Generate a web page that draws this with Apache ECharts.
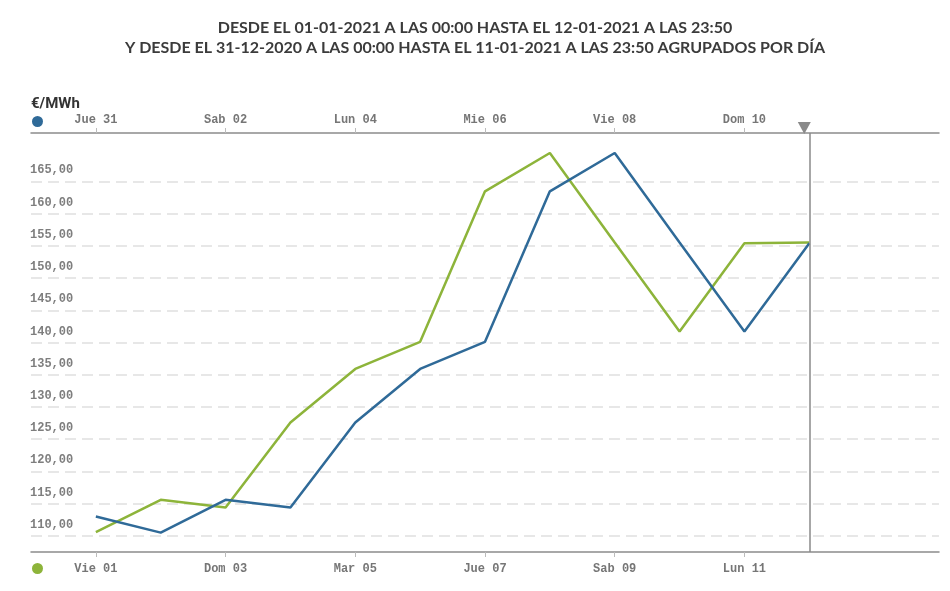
<!DOCTYPE html>
<html>
<head>
<meta charset="utf-8">
<script src="https://cdn.jsdelivr.net/npm/echarts@6/dist/echarts.min.js"></script>
<style>
html,body{margin:0;padding:0;background:#fff;}
#chart{width:950px;height:591px;}
</style>
</head>
<body>
<div id="chart"></div>
<script>
// Day labels (top axis: blue series dot, bottom axis: green series dot)
const topDays = ['Jue 31','Vie 01','Sab 02','Dom 03','Lun 04','Mar 05','Mie 06','Jue 07','Vie 08','Sab 09','Dom 10','Lun 11'];
const bottomDays = ['Vie 01','Sab 02','Dom 03','Lun 04','Mar 05','Mie 06','Jue 07','Vie 08','Sab 09','Dom 10','Lun 11','Mar 12'];
const labelIndexes = [0, 2, 4, 6, 8, 10];
const yTickValues = [110, 115, 120, 125, 130, 135, 140, 145, 150, 155, 160, 165];

// Daily prices (€/MWh)
const blueName = 'Del 01-01-2021 al 12-01-2021';
const greenName = 'Del 31-12-2020 al 11-01-2021';
const blueValues = [113.0, 110.5, 115.6, 114.4, 127.6, 135.9, 140.1, 163.45, 169.4, 155.5, 141.7, 155.4];
const greenValues = [110.6, 115.6, 114.4, 127.6, 135.9, 140.1, 163.45, 169.4, 155.5, 141.7, 155.4, 155.5];
const cursorIndex = 11;

const BLUE = '#2f6a98';
const GREEN = '#8db43a';
const MONO = '"Liberation Mono", "DejaVu Sans Mono", monospace';

const chart = echarts.init(document.getElementById('chart'), null, {renderer: 'canvas'});

function xAxisCfg(pos, days) {
  return {
    type: 'value',
    position: pos,
    min: -1,
    max: 13,
    axisLine: {show: true, onZero: false, lineStyle: {color: '#8c8c8c', width: 1.5}},
    axisTick: {show: true, customValues: labelIndexes, length: 5, lineStyle: {color: '#bbb', width: 1}},
    axisLabel: {
      show: true,
      customValues: labelIndexes,
      formatter: v => days[Math.round(v)] || '',
      fontFamily: MONO,
      fontWeight: 'bold',
      fontSize: 12,
      color: '#767676',
      margin: pos === 'top' ? 7 : 11
    },
    splitLine: {show: false}
  };
}

const option = {
  animation: false,
  backgroundColor: '#fff',
  title: {
    text: 'DESDE EL 01-01-2021 A LAS 00:00 HASTA EL 12-01-2021 A LAS 23:50\nY DESDE EL 31-12-2020 A LAS 00:00 HASTA EL 11-01-2021 A LAS 23:50 AGRUPADOS POR DÍA',
    left: 'center',
    top: 13,
    textStyle: {
      fontFamily: 'Lato, "Open Sans", sans-serif',
      fontWeight: 'bold',
      fontSize: 16,
      lineHeight: 20,
      color: '#3b3b3b'
    }
  },
  legend: [
    {
      data: [blueName], left: 32, top: 116, icon: 'circle', itemWidth: 11, itemHeight: 11,
      formatter: () => '', textStyle: {fontSize: 1}, padding: 0
    },
    {
      data: [greenName], left: 32, top: 563, icon: 'circle', itemWidth: 11, itemHeight: 11,
      formatter: () => '', textStyle: {fontSize: 1}, padding: 0
    }
  ],
  grid: {left: 31, right: 11, top: 133, bottom: 39, containLabel: false},
  xAxis: [xAxisCfg('top', topDays), xAxisCfg('bottom', bottomDays)],
  yAxis: {
    type: 'value',
    min: 107.5,
    max: 172.5,
    name: '€/MWh',
    nameLocation: 'end',
    nameGap: 21,
    nameTextStyle: {
      align: 'left',
      fontFamily: 'Roboto, "Liberation Sans", sans-serif',
      fontWeight: 'bold',
      fontSize: 15,
      color: '#333'
    },
    axisLine: {show: false, onZero: false},
    axisTick: {show: false, customValues: yTickValues},
    axisLabel: {
      customValues: yTickValues,
      inside: true,
      margin: -1,
      verticalAlign: 'bottom',
      padding: [0, 0, 5, 0],
      formatter: v => v.toFixed(2).replace('.', ','),
      fontFamily: MONO,
      fontWeight: 'bold',
      fontSize: 12,
      color: '#7e7e7e'
    },
    splitLine: {show: true, lineStyle: {color: '#e0e0e0', width: 1.5, type: [11, 6]}}
  },
  series: [
    {
      name: blueName,
      type: 'line',
      xAxisIndex: 0,
      data: blueValues.map((v, i) => [i, v]),
      showSymbol: false,
      clip: false,
      color: BLUE,
      lineStyle: {color: BLUE, width: 2.5},
      z: 3,
      markLine: {
        silent: true,
        symbol: ['none', 'path://M0,0L12,0L6,11Z'],
        symbolSize: [13, 12],
        symbolRotate: 0,
        symbolOffset: [0, -5],
        label: {show: false},
        lineStyle: {color: '#8a8a8a', width: 1.5, type: 'solid'},
        itemStyle: {color: '#6b6b6b'},
        emphasis: {disabled: true},
        data: [{xAxis: cursorIndex}]
      }
    },
    {
      name: greenName,
      type: 'line',
      xAxisIndex: 1,
      data: greenValues.map((v, i) => [i, v]),
      showSymbol: false,
      clip: false,
      color: GREEN,
      lineStyle: {color: GREEN, width: 2.5},
      z: 2
    }
  ]
};
chart.setOption(option);
</script>
</body>
</html>
